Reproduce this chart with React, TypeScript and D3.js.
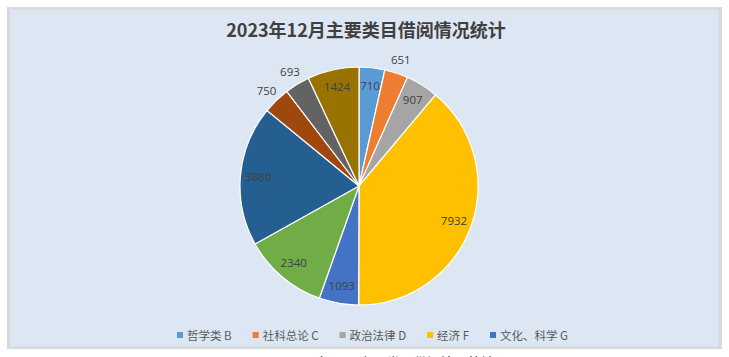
import React, { useEffect, useRef } from "react";
import * as d3 from "d3";

const categories = [
  "哲学类 B",
  "社科总论 C",
  "政治法律 D",
  "经济 F",
  "文化、科学 G",
  "语言、文字 H",
  "文学 I",
  "艺术 J",
  "历史、地理 K",
  "工业技术 T",
];
const values = [710, 651, 907, 7932, 1093, 2340, 3880, 750, 693, 1424];
const colors = [
  "#5B9BD5",
  "#ED7D31",
  "#A5A5A5",
  "#FFC000",
  "#4472C4",
  "#70AD47",
  "#255E91",
  "#9E480E",
  "#636363",
  "#997300",
];
const legendCategories = categories.slice(0, 5);
const outsideLabelCategories = ["社科总论 C", "艺术 J", "历史、地理 K"];
const title = "2023年12月主要类目借阅情况统计";
const caption = "图1 2023年12月主要类目借阅情况统计";

const W = 729;
const H = 357;

export default function App() {
  const ref = useRef<SVGSVGElement | null>(null);

  useEffect(() => {
    const svg = d3.select(ref.current);
    svg.selectAll("*").remove();

    // frame
    svg.append("rect").attr("x", 7).attr("y", 7).attr("width", 715).attr("height", 342).attr("fill", "#d9d9d9");
    svg.append("rect").attr("x", 10).attr("y", 9.5).attr("width", 708.5).attr("height", 337).attr("fill", "#dde7f3");

    // title
    svg
      .append("text")
      .attr("x", 366)
      .attr("y", 37)
      .attr("text-anchor", "middle")
      .attr("font-family", "'Noto Sans CJK SC', sans-serif")
      .attr("font-weight", "bold")
      .attr("font-size", 18)
      .attr("fill", "#404040")
      .text(title);

    const cx = 359;
    const cy = 186;
    const r = 119;

    const pie = d3
      .pie<number>()
      .sort(null)
      .value((d) => d)
      .startAngle(0)
      .endAngle(2 * Math.PI);
    const arcs = pie(values);
    const arc = d3.arc<d3.PieArcDatum<number>>().innerRadius(0).outerRadius(r);

    const g = svg.append("g").attr("transform", `translate(${cx},${cy})`);
    g.selectAll("path.slice")
      .data(arcs)
      .enter()
      .append("path")
      .attr("class", "slice")
      .attr("d", arc as any)
      .attr("fill", (_d, i) => colors[i])
      .attr("stroke", "#ffffff")
      .attr("stroke-width", 1.2);

    const inArc = d3.arc<d3.PieArcDatum<number>>().innerRadius(r * 0.85).outerRadius(r * 0.85);
    const outArc = d3.arc<d3.PieArcDatum<number>>().innerRadius(r + 14).outerRadius(r + 14);

    g.selectAll("text.lbl")
      .data(arcs)
      .enter()
      .append("text")
      .attr("class", "lbl")
      .attr("transform", (d, i) => {
        const c = outsideLabelCategories.includes(categories[i]) ? outArc.centroid(d) : inArc.centroid(d);
        return `translate(${c[0]},${c[1]})`;
      })
      .attr("text-anchor", "middle")
      .attr("dy", "0.36em")
      .attr("font-family", "'Open Sans', 'Liberation Sans', sans-serif")
      .attr("font-size", 11.5)
      .attr("fill", "#404040")
      .text((d) => String(d.data));

    // legend
    const lg = svg.append("g");
    const items = lg
      .selectAll("g.item")
      .data(legendCategories)
      .enter()
      .append("g")
      .attr("class", "item");
    items
      .append("rect")
      .attr("width", 6)
      .attr("height", 6)
      .attr("y", -8)
      .attr("fill", (_d, i) => colors[i]);
    const texts = items
      .append("text")
      .attr("x", 10)
      .attr("font-family", "'Noto Sans CJK SC', sans-serif")
      .attr("font-size", 11.5)
      .attr("fill", "#595959")
      .text((d) => d);
    const widths: number[] = [];
    texts.each(function () {
      widths.push((this as SVGTextElement).getComputedTextLength() + 10);
    });
    const gap = 21;
    const total = widths.reduce((a, b) => a + b, 0) + gap * (widths.length - 1);
    let x0 = 372.5 - total / 2;
    const xs: number[] = [];
    widths.forEach((w) => {
      xs.push(x0);
      x0 += w + gap;
    });
    items.attr("transform", (_d, i) => `translate(${xs[i]},340)`);

    // clipped caption below frame
    svg
      .append("text")
      .attr("x", 379)
      .attr("y", 368)
      .attr("text-anchor", "middle")
      .attr("font-family", "'Noto Sans CJK SC', sans-serif")
      .attr("font-size", 13.5)
      .attr("fill", "#000000")
      .text(caption);
  }, []);

  return (
    <svg
      ref={ref}
      width={W}
      height={H}
      style={{ position: "absolute", left: 0, top: 0, background: "#ffffff" }}
    />
  );
}
